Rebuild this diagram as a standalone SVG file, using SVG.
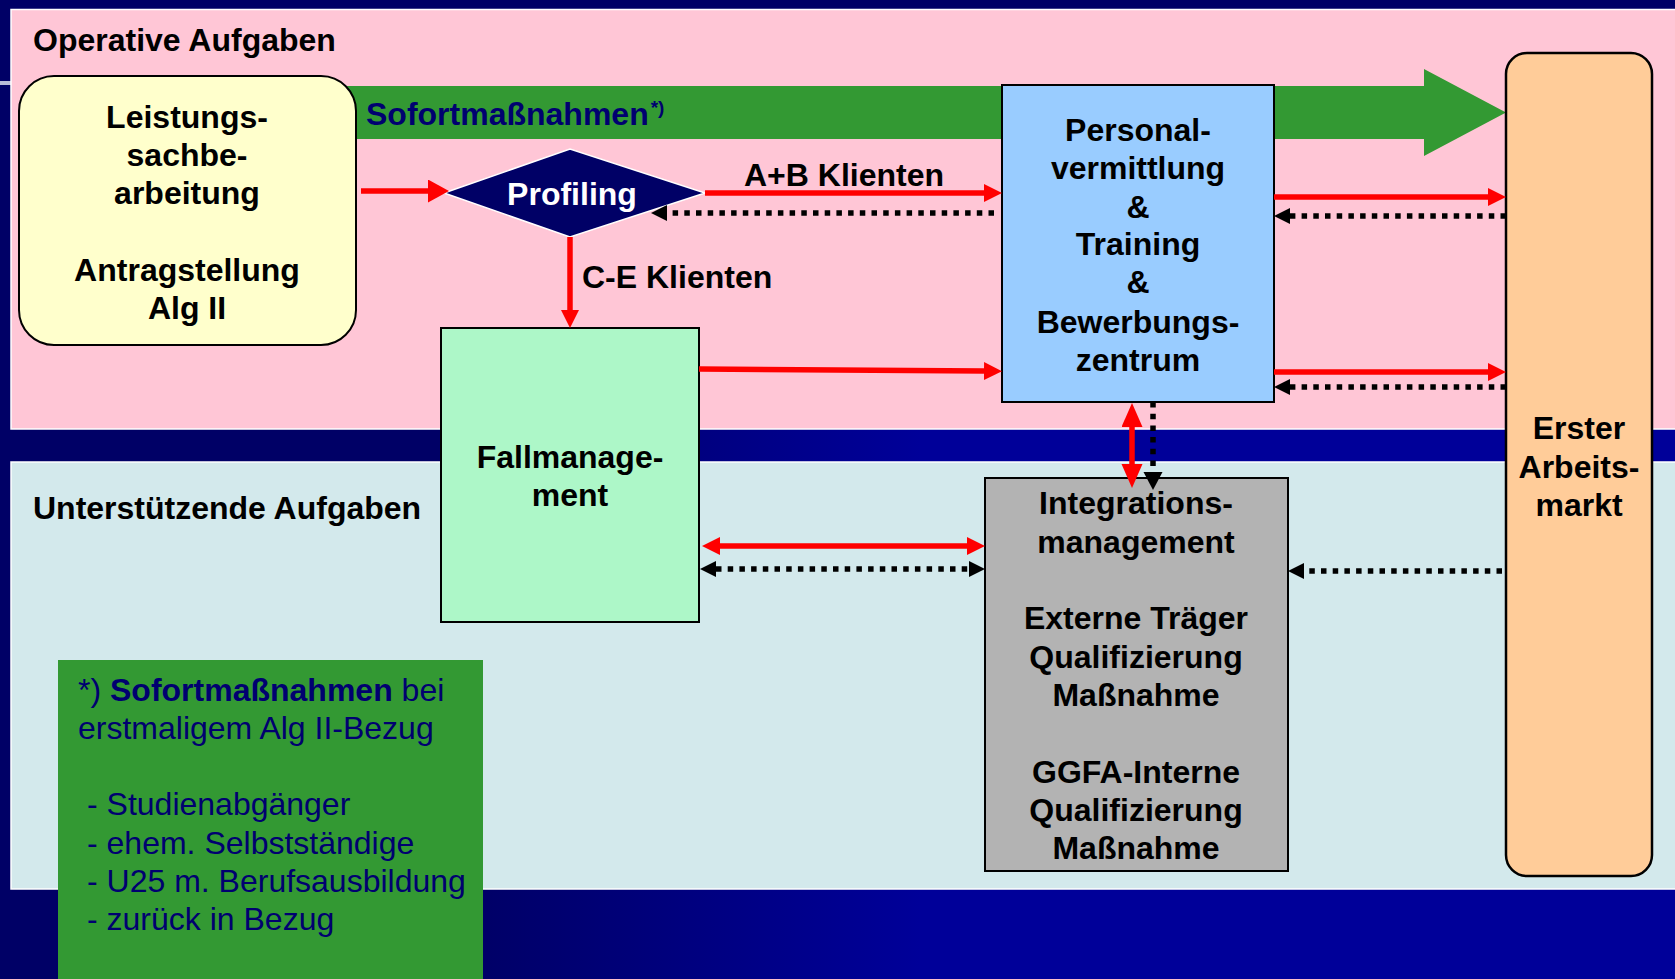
<svg xmlns="http://www.w3.org/2000/svg" width="1675" height="979" viewBox="0 0 1675 979">
<defs>
<linearGradient id="bg" x1="0" y1="0" x2="1" y2="0">
<stop offset="0.28" stop-color="#000066"/>
<stop offset="0.55" stop-color="#000099"/>
</linearGradient>
<marker id="rh" markerUnits="userSpaceOnUse" markerWidth="20" markerHeight="20" refX="0" refY="9" orient="auto-start-reverse"><path d="M0,0 L18,9 L0,18 z" fill="#ff0000"/></marker>
<marker id="rhL" markerUnits="userSpaceOnUse" markerWidth="23" markerHeight="24" refX="0" refY="11.5" orient="auto-start-reverse"><path d="M0,0 L21,11.5 L0,23 z" fill="#ff0000"/></marker>
<marker id="rhV" markerUnits="userSpaceOnUse" markerWidth="26" markerHeight="22" refX="0" refY="10.5" orient="auto-start-reverse"><path d="M0,0 L24,10.5 L0,21 z" fill="#ff0000"/></marker>
<marker id="bh" markerUnits="userSpaceOnUse" markerWidth="18" markerHeight="17" refX="0" refY="8" orient="auto-start-reverse"><path d="M0,0 L16,8 L0,16 z" fill="#000000"/></marker>
<marker id="bhV" markerUnits="userSpaceOnUse" markerWidth="20" markerHeight="20" refX="0" refY="9.5" orient="auto-start-reverse"><path d="M0,0 L18,9.5 L0,19 z" fill="#000000"/></marker>
</defs>
<style>
text{font-family:"Liberation Sans",Arial,sans-serif;font-size:32px;fill:#000000}
.b{font-weight:bold}
.c{text-anchor:middle}
.box{stroke:#000000;stroke-width:2}
.red{stroke:#ff0000;stroke-width:5.5;fill:none}
.dot{stroke:#000000;stroke-width:5.5;stroke-dasharray:5.5 6.2;fill:none}
.nv{fill:#000070}
</style>
<g id="background">
<rect x="0" y="0" width="1675" height="979" fill="url(#bg)"/>
<rect x="0" y="0" width="1675" height="9" fill="#000066"/>
<line x1="0" y1="83" x2="12" y2="83" stroke="#b8bcd8" stroke-width="4"/>
<rect x="11" y="9.5" width="1670" height="419.5" fill="#ffc6d6" stroke="#ffffff" stroke-width="1.5"/>
<rect x="11" y="462" width="1670" height="427" fill="#d3e9ec" stroke="#ffffff" stroke-width="1.5"/>
<text x="33" y="51" class="b">Operative Aufgaben</text>
<text x="33" y="519" class="b">Unterstützende Aufgaben</text>
</g>
<g id="sofort-arrow">
<path d="M340,86 H1424 V69 L1506,112.5 L1424,156 V139 H340 z" fill="#339933"/>
<text x="366" y="125" class="b nv">Sofortmaßnahmen<tspan font-size="19" dx="2" dy="-11">*)</tspan></text>
</g>
<g id="leistung">
<rect x="19" y="76" width="337" height="269" rx="35" ry="35" fill="#ffffcc" class="box"/>
<text x="187" y="128" class="b c">Leistungs-</text>
<text x="187" y="166" class="b c">sachbe-</text>
<text x="187" y="204" class="b c">arbeitung</text>
<text x="187" y="281" class="b c">Antragstellung</text>
<text x="187" y="319" class="b c">Alg II</text>
</g>
<g id="profiling">
<polygon points="444,193 570,149 705,193 570,237" fill="#000066" stroke="#ffffff" stroke-width="1.5"/>
<text x="572" y="205" class="b c" style="fill:#ffffff">Profiling</text>
</g>
<g id="fallmanagement">
<rect x="441" y="328" width="258" height="294" fill="#adf7c8" class="box"/>
<text x="570" y="468" class="b c">Fallmanage-</text>
<text x="570" y="506" class="b c">ment</text>
</g>
<g id="personal">
<rect x="1002" y="85" width="272" height="317" fill="#99ccff" class="box"/>
<text x="1138" y="141" class="b c">Personal-</text>
<text x="1138" y="179" class="b c">vermittlung</text>
<text x="1138" y="218" class="b c">&amp;</text>
<text x="1138" y="255" class="b c">Training</text>
<text x="1138" y="293" class="b c">&amp;</text>
<text x="1138" y="333" class="b c">Bewerbungs-</text>
<text x="1138" y="371" class="b c">zentrum</text>
</g>
<g id="integration">
<rect x="985" y="478" width="303" height="393" fill="#b3b3b3" class="box"/>
<text x="1136" y="514" class="b c">Integrations-</text>
<text x="1136" y="553" class="b c">management</text>
<text x="1136" y="629" class="b c">Externe Träger</text>
<text x="1136" y="668" class="b c">Qualifizierung</text>
<text x="1136" y="706" class="b c">Maßnahme</text>
<text x="1136" y="783" class="b c">GGFA-Interne</text>
<text x="1136" y="821" class="b c">Qualifizierung</text>
<text x="1136" y="859" class="b c">Maßnahme</text>
</g>
<g id="arbeitsmarkt">
<rect x="1506" y="53" width="146" height="823" rx="21" ry="21" fill="#ffcc99" stroke="#000000" stroke-width="2.5"/>
<text x="1579" y="439" class="b c">Erster</text>
<text x="1579" y="478" class="b c">Arbeits-</text>
<text x="1579" y="516" class="b c">markt</text>
</g>
<g id="connectors">
<line x1="361" y1="191" x2="428" y2="191" class="red" stroke-width="6" marker-end="url(#rhL)"/>
<line x1="705" y1="193" x2="984" y2="193" class="red" marker-end="url(#rh)"/>
<line x1="994" y1="213" x2="667" y2="213" class="dot" marker-end="url(#bh)"/>
<line x1="1274" y1="197" x2="1488" y2="197" class="red" marker-end="url(#rh)"/>
<line x1="1506" y1="216" x2="1290" y2="216" class="dot" marker-end="url(#bh)"/>
<line x1="699" y1="369" x2="984" y2="371" class="red" marker-end="url(#rh)"/>
<line x1="1274" y1="372" x2="1488" y2="372" class="red" marker-end="url(#rh)"/>
<line x1="1506" y1="387" x2="1290" y2="387" class="dot" marker-end="url(#bh)"/>
<line x1="570" y1="237" x2="570" y2="310" class="red" marker-end="url(#rh)"/>
<line x1="1132" y1="427" x2="1132" y2="464" class="red" stroke-width="7" marker-start="url(#rhV)" marker-end="url(#rhV)"/>
<line x1="1153" y1="402" x2="1153" y2="472" class="dot" marker-end="url(#bhV)"/>
<line x1="720" y1="546" x2="967" y2="546" class="red" stroke-width="6" marker-start="url(#rh)" marker-end="url(#rh)"/>
<line x1="716" y1="569" x2="969" y2="569" class="dot" marker-start="url(#bh)" marker-end="url(#bh)"/>
<line x1="1502" y1="571" x2="1304" y2="571" class="dot" marker-end="url(#bh)"/>
<text x="744" y="186" class="b">A+B Klienten</text>
<text x="582" y="288" class="b">C-E Klienten</text>
</g>
<g id="footnote">
<rect x="58" y="660" width="425" height="320" fill="#339933"/>
<text x="78" y="701" class="nv">*) <tspan class="b">Sofortmaßnahmen</tspan> bei</text>
<text x="78" y="739" class="nv">erstmaligem Alg II-Bezug</text>
<text x="87" y="815" class="nv">- Studienabgänger</text>
<text x="87" y="854" class="nv">- ehem. Selbstständige</text>
<text x="87" y="892" class="nv">- U25 m. Berufsausbildung</text>
<text x="87" y="930" class="nv">- zurück in Bezug</text>
</g>
</svg>
